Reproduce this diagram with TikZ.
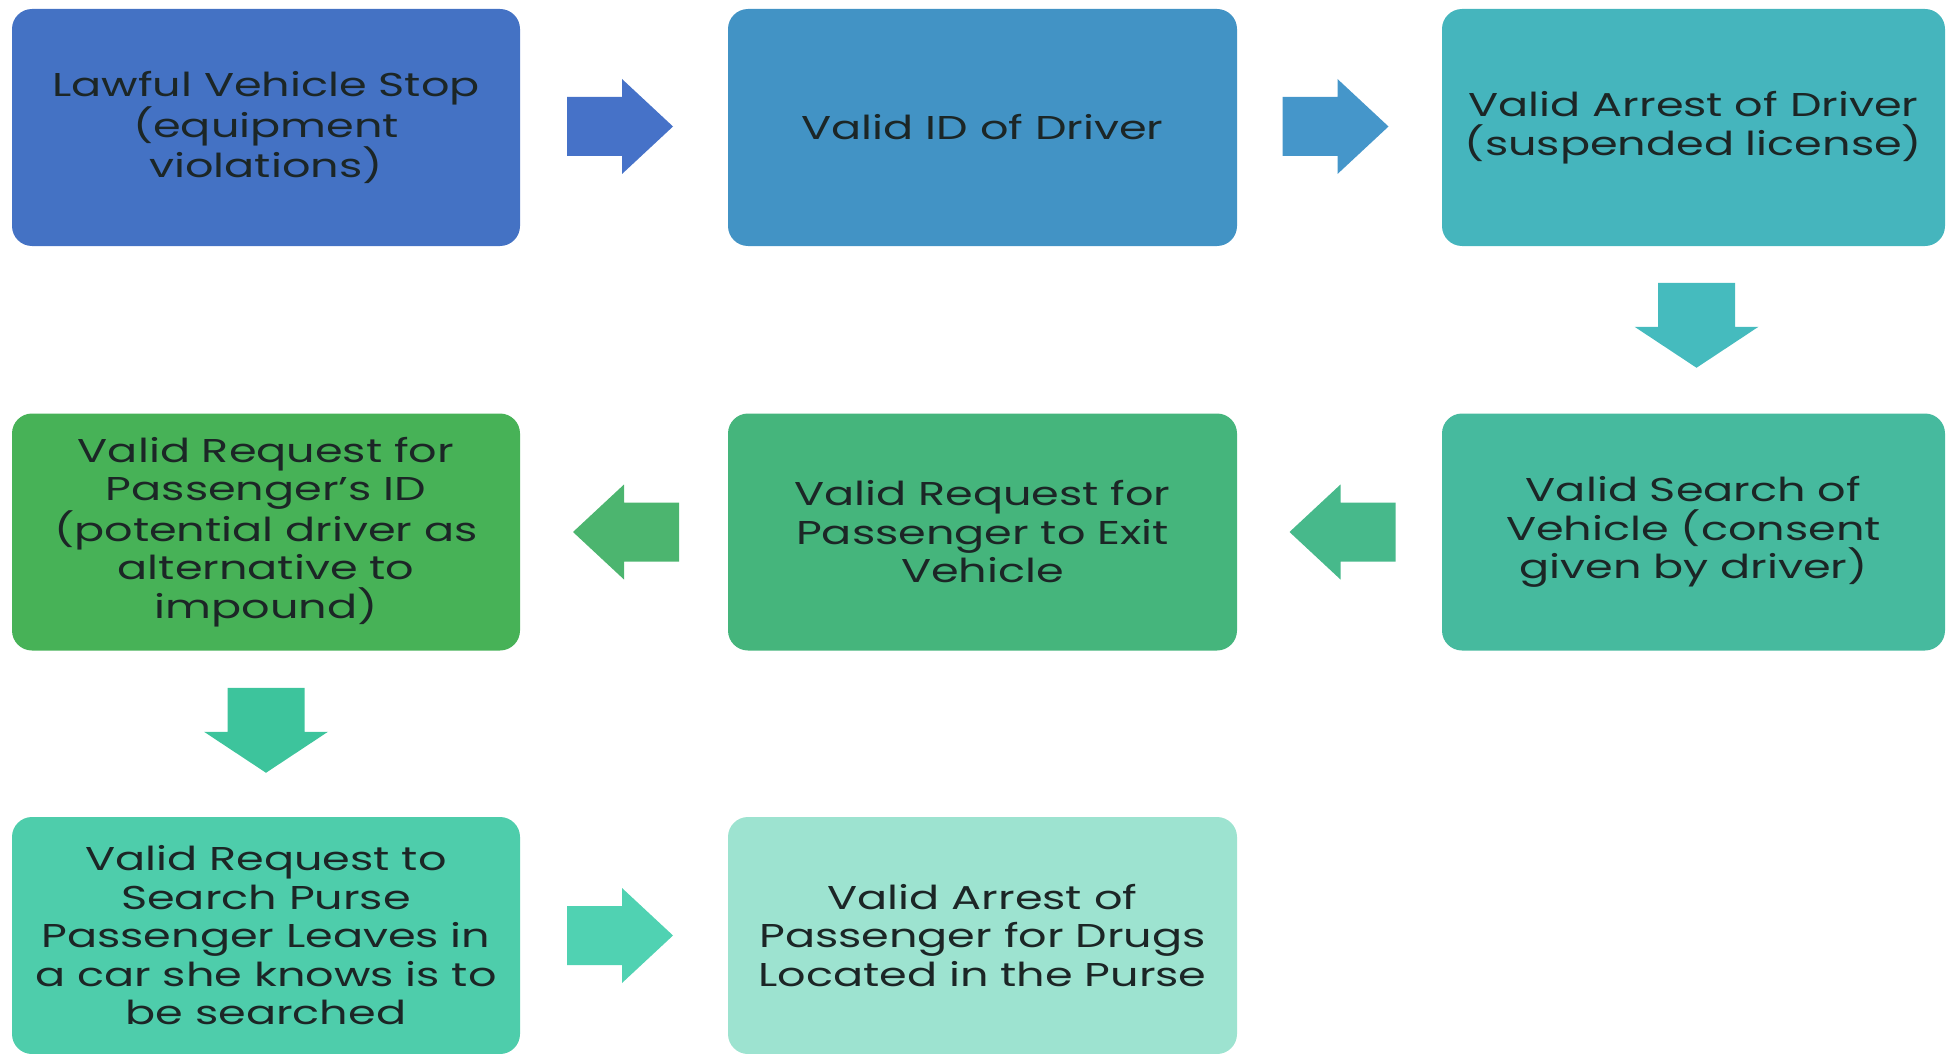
\documentclass[tikz,border=0pt]{standalone}
\usepackage{fontspec}
\setmainfont[FakeStretch=1.35]{Poppins}
\usetikzlibrary{calc}
\definecolor{bA}{HTML}{4472C4}
\definecolor{aA}{HTML}{4672C8}
\definecolor{bB}{HTML}{4293C5}
\definecolor{aB}{HTML}{4596CA}
\definecolor{bC}{HTML}{45B5BD}
\definecolor{aC}{HTML}{45BBBE}
\definecolor{bD}{HTML}{46BA9E}
\definecolor{aD}{HTML}{47B98B}
\definecolor{bE}{HTML}{45B57C}
\definecolor{aE}{HTML}{4CB56F}
\definecolor{bF}{HTML}{47B257}
\definecolor{aF}{HTML}{3DC49C}
\definecolor{bG}{HTML}{4ECDAB}
\definecolor{aG}{HTML}{50D2B2}
\definecolor{bH}{HTML}{9DE3D0}
\definecolor{txt}{HTML}{1C2626}
\tikzset{
  box/.style={rounded corners=20pt, minimum height=237pt, align=center,
    text=txt, inner sep=0pt, font=\fontsize{33}{38.5}\selectfont},
  colA/.style={box, minimum width=508pt},
  colB/.style={box, minimum width=509pt},
  colC/.style={box, minimum width=503pt},
}
\newcommand{\arrowR}[2]{\fill[#2, shift={(#1)}] (-53,-29.5) -- (2,-29.5) -- (2,-47.5) -- (53,0) -- (2,47.5) -- (2,29.5) -- (-53,29.5) -- cycle;}
\newcommand{\arrowL}[2]{\fill[#2, shift={(#1)}] (53,-29.5) -- (-2,-29.5) -- (-2,-47.5) -- (-53,0) -- (-2,47.5) -- (-2,29.5) -- (53,29.5) -- cycle;}
\newcommand{\arrowD}[2]{\fill[#2, shift={(#1)}] (-38.5,-43) -- (38.5,-43) -- (38.5,1) -- (62,1) -- (0,42) -- (-62,1) -- (-38.5,1) -- cycle;}
\begin{document}
\begin{tikzpicture}[x=1pt,y=-1pt]
\useasboundingbox (0,0) rectangle (1947,1054);
\begin{scope}
\clip (0,0) rectangle (1947,1054);
\node[colA, fill=bA] (n1) at (266,127.5) {Lawful Vehicle Stop\\(equipment\\violations)};
\node[colB, fill=bB] (n2) at (982.5,127.5) {Valid ID of Driver};
\node[colC, fill=bC] (n3) at (1693.5,127.5) {Valid Arrest of Driver\\(suspended license)};
\node[colC, fill=bD] (n4) at (1693.5,532) {Valid Search of\\Vehicle (consent\\given by driver)};
\node[colB, fill=bE] (n5) at (982.5,532) {Valid Request for\\Passenger to Exit\\Vehicle};
\node[colA, fill=bF] (n6) at (266,532) {Valid Request for\\Passenger's ID\\(potential driver as\\alternative to\\impound)};
\node[colA, fill=bG] (n7) at (266,935.5) {Valid Request to\\Search Purse\\Passenger Leaves in\\a car she knows is to\\be searched};
\node[colB, fill=bH] (n8) at (982.5,935.5) {Valid Arrest of\\Passenger for Drugs\\Located in the Purse};
\end{scope}
\coordinate (a12) at ($(n1.east)!0.5!(n2.west)+(-4,-1)$);
\coordinate (a23) at ($(n2.east)!0.5!(n3.west)+(-4,-1)$);
\coordinate (a34) at ($(n3.south)!0.5!(n4.north)+(3,-4)$);
\coordinate (a45) at ($(n5.east)!0.5!(n4.west)+(3,0)$);
\coordinate (a56) at ($(n6.east)!0.5!(n5.west)+(2,0)$);
\coordinate (a67) at ($(n6.south)!0.5!(n7.north)+(0,-3)$);
\coordinate (a78) at ($(n7.east)!0.5!(n8.west)+(-4,0)$);
\arrowR{a12}{aA}
\arrowR{a23}{aB}
\arrowD{a34}{aC}
\arrowL{a45}{aD}
\arrowL{a56}{aE}
\arrowD{a67}{aF}
\arrowR{a78}{aG}
\end{tikzpicture}
\end{document}
